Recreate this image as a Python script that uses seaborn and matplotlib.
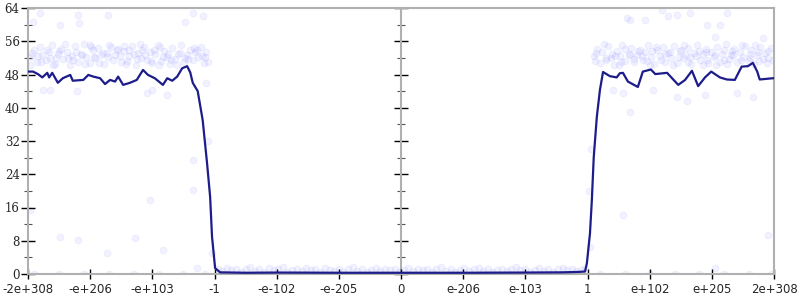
import matplotlib
matplotlib.use("Agg")
import matplotlib.pyplot as plt
import seaborn as sns
import numpy as np
import pandas as pd

# ---------------- data ----------------
tick_labels = ["-2e+308", "-e+206", "-e+103", "-1", "-e-102", "-e-205", "0",
               "e-206", "e-103", "1", "e+102", "e+205", "2e+308"]
y_ticks = [0, 8, 16, 24, 32, 40, 48, 56, 64]

# average line (x in ordinal tick units, -6 .. 6)
line_x = [-6.0, -5.92, -5.84, -5.77, -5.69, -5.66, -5.61, -5.52, -5.44, -5.32, -5.28,
          -5.11, -5.03, -4.95, -4.84, -4.76, -4.68, -4.60, -4.55, -4.47, -4.36, -4.25,
          -4.15, -4.07, -3.96, -3.83, -3.76, -3.68, -3.60, -3.52, -3.44, -3.39, -3.35,
          -3.27, -3.19, -3.12, -3.07, -3.04, -2.99, -2.91, -2.5, -2.0, -1.0, 0.0, 1.0,
          2.0, 2.6, 2.85, 2.96, 2.99, 3.04, 3.07, 3.10, 3.15, 3.20, 3.25, 3.36, 3.47,
          3.52, 3.57, 3.65, 3.81, 3.89, 4.02, 4.09, 4.28, 4.46, 4.57, 4.68, 4.78, 4.89,
          4.99, 5.13, 5.24, 5.37, 5.48, 5.58, 5.66, 5.73, 5.77, 5.98, 6.0]
line_y = [48.7, 48.7, 48.1, 47.3, 48.4, 47.3, 48.4, 46.0, 47.1, 47.9, 46.5,
          46.7, 47.9, 47.5, 47.1, 45.7, 46.7, 46.3, 47.5, 45.5, 46.0, 46.7,
          49.1, 47.9, 47.1, 45.5, 47.1, 46.5, 47.5, 49.5, 50.0, 48.5, 46.0,
          44.0, 37.0, 26.7, 18.5, 9.0, 1.4, 0.4, 0.3, 0.35, 0.3, 0.3, 0.3,
          0.35, 0.4, 0.5, 0.6, 2.6, 9.8, 17.8, 28.0, 37.8, 44.3, 48.6, 47.6, 47.3,
          48.3, 48.4, 46.3, 45.0, 48.7, 49.2, 48.1, 48.4, 45.5, 46.7, 48.9, 45.2, 47.3,
          48.7, 47.3, 46.8, 46.7, 49.9, 50.0, 50.8, 48.7, 46.8, 47.1, 47.1]

# individual samples
left_band_x = [-5.95, -5.9, -5.86, -5.8, -5.77, -5.71, -5.66, -5.62, -5.57, -5.52, -5.47,
               -5.43, -5.38, -5.33, -5.29, -5.24, -5.2, -5.15, -5.1, -5.06, -5.01, -4.96,
               -4.92, -4.87, -4.83, -4.78, -4.73, -4.69, -4.64, -4.6, -4.55, -4.5, -4.46,
               -4.41, -4.37, -4.32, -4.27, -4.23, -4.18, -4.14, -4.09, -4.04, -4.0, -3.95,
               -3.91, -3.86, -3.81, -3.77, -3.72, -3.68, -3.63, -3.58, -3.54, -3.49, -3.45,
               -3.4, -3.35, -3.31, -3.26, -3.22, -3.17, -3.13,
               -5.97, -5.84, -5.69, -5.55, -5.41, -5.27, -5.13, -4.99, -4.85, -4.71, -4.57,
               -4.43, -4.29, -4.16, -4.02, -3.88, -3.74, -3.6, -3.47, -3.33, -3.2, -3.1,
               -5.93, -5.79, -5.64, -5.5, -5.36, -5.22, -5.08, -4.94, -4.8, -4.66, -4.52,
               -4.38, -4.25, -4.11, -3.97, -3.83, -3.7, -3.56, -3.42, -3.28, -3.15, -5.0,
               -4.45, -3.9, -5.6, -4.2]
left_band_y = [52.1, 53.8, 50.9, 54.6, 52.7, 51.4, 53.3, 55.0, 50.6, 52.9, 54.1,
               51.7, 53.5, 50.3, 52.4, 54.8, 51.1, 53.0, 55.3, 52.2, 50.8, 53.9,
               51.9, 54.4, 52.6, 50.5, 53.2, 55.1, 51.5, 52.8, 54.2, 50.9, 53.6,
               51.3, 52.5, 54.9, 50.4, 53.1, 52.0, 54.5, 51.6, 53.4, 50.7, 52.9,
               55.2, 51.2, 53.7, 52.3, 50.6, 54.3, 51.8, 53.0, 55.0, 50.9, 52.6,
               54.0, 51.4, 53.3, 52.1, 54.7, 50.8, 53.5,
               50.2, 52.4, 54.0, 51.9, 55.4, 51.6, 52.6, 54.7, 50.8, 52.2, 53.9,
               50.6, 52.9, 53.8, 51.2, 54.6, 53.0, 50.3, 52.0, 54.4, 52.5, 51.0,
               53.1, 51.0, 52.0, 53.6, 51.9, 53.4, 50.6, 52.3, 53.1, 54.6, 52.4,
               53.9, 51.8, 52.7, 54.0, 52.2, 51.5, 53.2, 51.7, 53.8, 52.3, 55.0,
               54.8, 50.4, 50.2, 55.3]
right_band_x = [3.1, 3.15, 3.2, 3.24, 3.29, 3.33, 3.38, 3.43, 3.47, 3.52, 3.56, 3.61,
                3.66, 3.7, 3.75, 3.79, 3.84, 3.89, 3.93, 3.98, 4.02, 4.07, 4.12, 4.16,
                4.21, 4.25, 4.3, 4.35, 4.39, 4.44, 4.48, 4.53, 4.58, 4.62, 4.67, 4.71,
                4.76, 4.81, 4.85, 4.9, 4.94, 4.99, 5.04, 5.08, 5.13, 5.17, 5.22, 5.27,
                5.31, 5.36, 5.4, 5.45, 5.5, 5.54, 5.59, 5.63, 5.68, 5.73, 5.77, 5.82,
                5.86, 5.91, 5.95, 5.99,
                3.12, 3.26, 3.4, 3.54, 3.68, 3.82, 3.96, 4.1, 4.24, 4.37, 4.51, 4.65,
                4.79, 4.93, 5.07, 5.2, 5.34, 5.48, 5.62, 5.75, 5.89,
                3.14, 3.3, 3.45, 3.6, 3.74, 3.88, 4.03, 4.18, 4.33, 4.47, 4.61, 4.75,
                4.9, 5.05, 5.19, 5.33, 5.47, 5.61, 5.76, 5.9, 4.0, 4.55, 5.25, 5.7,
                3.5, 4.85]
right_band_y = [52.4, 54.1, 50.7, 53.3, 51.6, 54.8, 52.0, 50.4, 53.7, 52.5, 55.1, 51.2,
                53.0, 54.4, 50.9, 52.8, 54.0, 51.5, 53.4, 55.2, 52.1, 50.6, 53.9, 52.4,
                54.6, 51.0, 53.1, 52.0, 54.9, 50.8, 53.6, 51.9, 52.7, 54.3, 50.5, 53.2,
                55.0, 51.4, 52.9, 54.2, 50.7, 53.5, 52.2, 54.7, 51.1, 53.0, 55.3, 51.8,
                52.6, 54.1, 50.9, 53.4, 52.3, 54.8, 51.3, 53.8, 50.6, 52.7, 54.5, 51.7,
                53.2, 52.0, 54.3, 51.5,
                51.2, 55.4, 53.0, 50.9, 52.6, 53.6, 51.3, 54.5, 52.9, 50.3, 54.0, 52.1,
                53.7, 51.6, 50.2, 53.9, 52.8, 55.1, 51.9, 53.5, 50.8,
                53.1, 51.9, 52.4, 54.2, 51.8, 52.5, 53.6, 51.6, 53.4, 52.2, 51.0, 52.4,
                53.3, 52.6, 51.5, 53.6, 51.6, 52.9, 51.2, 53.7, 50.3, 55.2, 50.5, 55.0,
                50.2, 50.4]
mid_band_x = [-2.95, -2.88, -2.8, -2.73, -2.65, -2.58, -2.5, -2.43, -2.35, -2.28, -2.2,
              -2.13, -2.05, -1.98, -1.9, -1.83, -1.75, -1.68, -1.6, -1.53, -1.45, -1.38,
              -1.3, -1.23, -1.15, -1.08, -1.0, -0.93, -0.85, -0.78, -0.7, -0.63, -0.55,
              -0.48, -0.4, -0.33, -0.25, -0.18, -0.1, -0.03, 0.05, 0.12, 0.2, 0.27, 0.35,
              0.42, 0.5, 0.57, 0.65, 0.72, 0.8, 0.87, 0.95, 1.02, 1.1, 1.17, 1.25, 1.32,
              1.4, 1.47, 1.55, 1.62, 1.7, 1.77, 1.85, 1.92, 2.0, 2.07, 2.15, 2.22, 2.3,
              2.37, 2.45, 2.52, 2.6, 2.67, 2.75, 2.82, 2.9, 2.96]
mid_band_y = [1.2, 0.7, 1.5, 0.9, 1.3, 0.6, 1.1, 1.6, 0.8, 1.2, 0.5,
              1.4, 0.9, 1.1, 1.7, 0.6, 1.0, 1.3, 0.7, 1.5, 0.9, 1.2,
              0.6, 1.4, 1.0, 0.8, 1.3, 0.5, 1.1, 1.6, 0.8, 1.2, 0.6,
              1.0, 1.4, 0.7, 1.1, 0.9, 1.3, 0.6, 1.0, 1.5, 0.7, 1.2, 0.9,
              1.3, 0.6, 1.1, 1.6, 0.8, 1.2, 0.5, 1.0, 1.4, 0.7, 1.1, 1.5, 0.8,
              1.2, 0.6, 1.0, 1.3, 0.7, 1.1, 1.6, 0.9, 1.2, 0.6, 1.0, 1.4, 0.8,
              1.2, 0.6, 1.1, 1.5, 0.9, 1.3, 0.7, 1.0, 1.4]
outlier_x = [-5.81, -5.92, -5.49, -5.20, -5.18, -4.71, -3.47, -3.35, -3.18, -5.76, -5.65,
             -4.09, -3.76, -4.01, -5.21, -5.97, -5.49, -5.20, -4.73, -4.28, -3.83, -4.04,
             -3.28, -3.14, -3.10, -3.34, -3.34, -3.04,
             3.64, 3.68, 3.92, 4.20, 4.29, 4.44, 4.65, 4.92, 5.05, 5.13, 5.24, 5.82, 3.41,
             3.57, 4.05, 4.44, 4.60, 4.89, 5.40, 3.68, 5.66, 3.57, 5.90, 5.05, 3.04, 3.02,
             3.06]
outlier_y = [62.8, 60.7, 60.0, 62.3, 60.4, 62.3, 60.7, 62.8, 62.0, 44.3, 44.3,
             43.5, 43.0, 44.3, 44.0, 15.4, 9.0, 8.2, 5.0, 8.6, 5.8, 17.8,
             1.4, 46.0, 32.0, 27.4, 20.2, 5.0,
             61.6, 61.0, 61.0, 63.6, 62.0, 62.3, 62.8, 60.0, 57.0, 60.0, 62.8, 56.7, 44.3,
             43.5, 44.3, 42.7, 41.7, 43.0, 43.6, 39.0, 42.7, 14.2, 9.4, 1.4, 6.6, 20.0,
             30.0]
floor_x = [-5.9, -5.5, -5.1, -4.7, -4.3, -3.9, -3.5, -3.15, 3.2, 3.6, 4.0, 4.4, 4.8,
           5.2, 5.6, 5.95]
floor_y = [0.1, 0.1, 0.1, 0.1, 0.1, 0.1, 0.1, 0.1, 0.1, 0.1, 0.1, 0.1, 0.1,
           0.1, 0.1, 0.1]

# ---------------- figure ----------------
sns.set_theme(style="white")
plt.rcParams["font.family"] = ["DejaVu Sans"]

pts = pd.DataFrame({
    "x": left_band_x + right_band_x + mid_band_x + outlier_x + floor_x,
    "y": left_band_y + right_band_y + mid_band_y + outlier_y + floor_y,
})
avg = pd.DataFrame({"x": line_x, "y": line_y})

fig, ax = plt.subplots(figsize=(8, 3), dpi=100)
fig.subplots_adjust(left=28 / 800, right=774 / 800, top=1 - 8 / 300, bottom=1 - 274 / 300)

sns.scatterplot(data=pts, x="x", y="y", ax=ax, color="#3a3aff", alpha=0.065, s=24,
                edgecolor="#3a3aff", linewidth=0.6, legend=False, zorder=2)
sns.lineplot(data=avg, x="x", y="y", ax=ax, color="#1c1c8a", linewidth=1.6,
             sort=False, estimator=None, zorder=3)

ax.set_xlim(-6, 6)
ax.set_ylim(0, 64)
ax.set_xlabel("")
ax.set_ylabel("")

gray = "#b0b0b0"
for s in ["left", "right", "top", "bottom"]:
    ax.spines[s].set_visible(True)
    ax.spines[s].set_color(gray)
    ax.spines[s].set_linewidth(1.5)

xpos = np.arange(len(tick_labels)) - (len(tick_labels) - 1) // 2
ax.set_xticks(xpos)
ax.set_xticklabels(tick_labels)
ax.set_yticks(y_ticks)
ax.set_yticklabels([str(v) for v in y_ticks], family="DejaVu Serif")
ax.set_yticks([v + 4 for v in y_ticks[:-1]], minor=True)

ax.tick_params(axis="x", which="major", direction="inout", length=7, width=1,
               color="black", labelsize=8.5, pad=3, bottom=True, top=False)
ax.tick_params(axis="y", which="major", direction="inout", length=10, width=1,
               color="black", labelsize=8.5, pad=1, left=True, right=True)
ax.tick_params(axis="y", which="minor", direction="inout", length=6, width=0.8,
               color="#555555", left=True, right=True)

# central vertical axis at x = 0
ax2 = ax.twinx()
ax2.set_ylim(0, 64)
for s in ["left", "top", "bottom"]:
    ax2.spines[s].set_visible(False)
ax2.spines["right"].set_position(("data", 0))
ax2.spines["right"].set_color(gray)
ax2.spines["right"].set_linewidth(1.5)
ax2.set_yticks(y_ticks)
ax2.set_yticks([v + 4 for v in y_ticks[:-1]], minor=True)
ax2.tick_params(axis="y", which="major", direction="inout", length=10, width=1,
                color="black", labelright=False, right=True)
ax2.tick_params(axis="y", which="minor", direction="inout", length=6, width=0.8,
                color="#555555", right=True)
ax2.set_zorder(0)
ax.set_zorder(1)
ax.patch.set_visible(False)

fig.savefig("out.png", dpi=100)
